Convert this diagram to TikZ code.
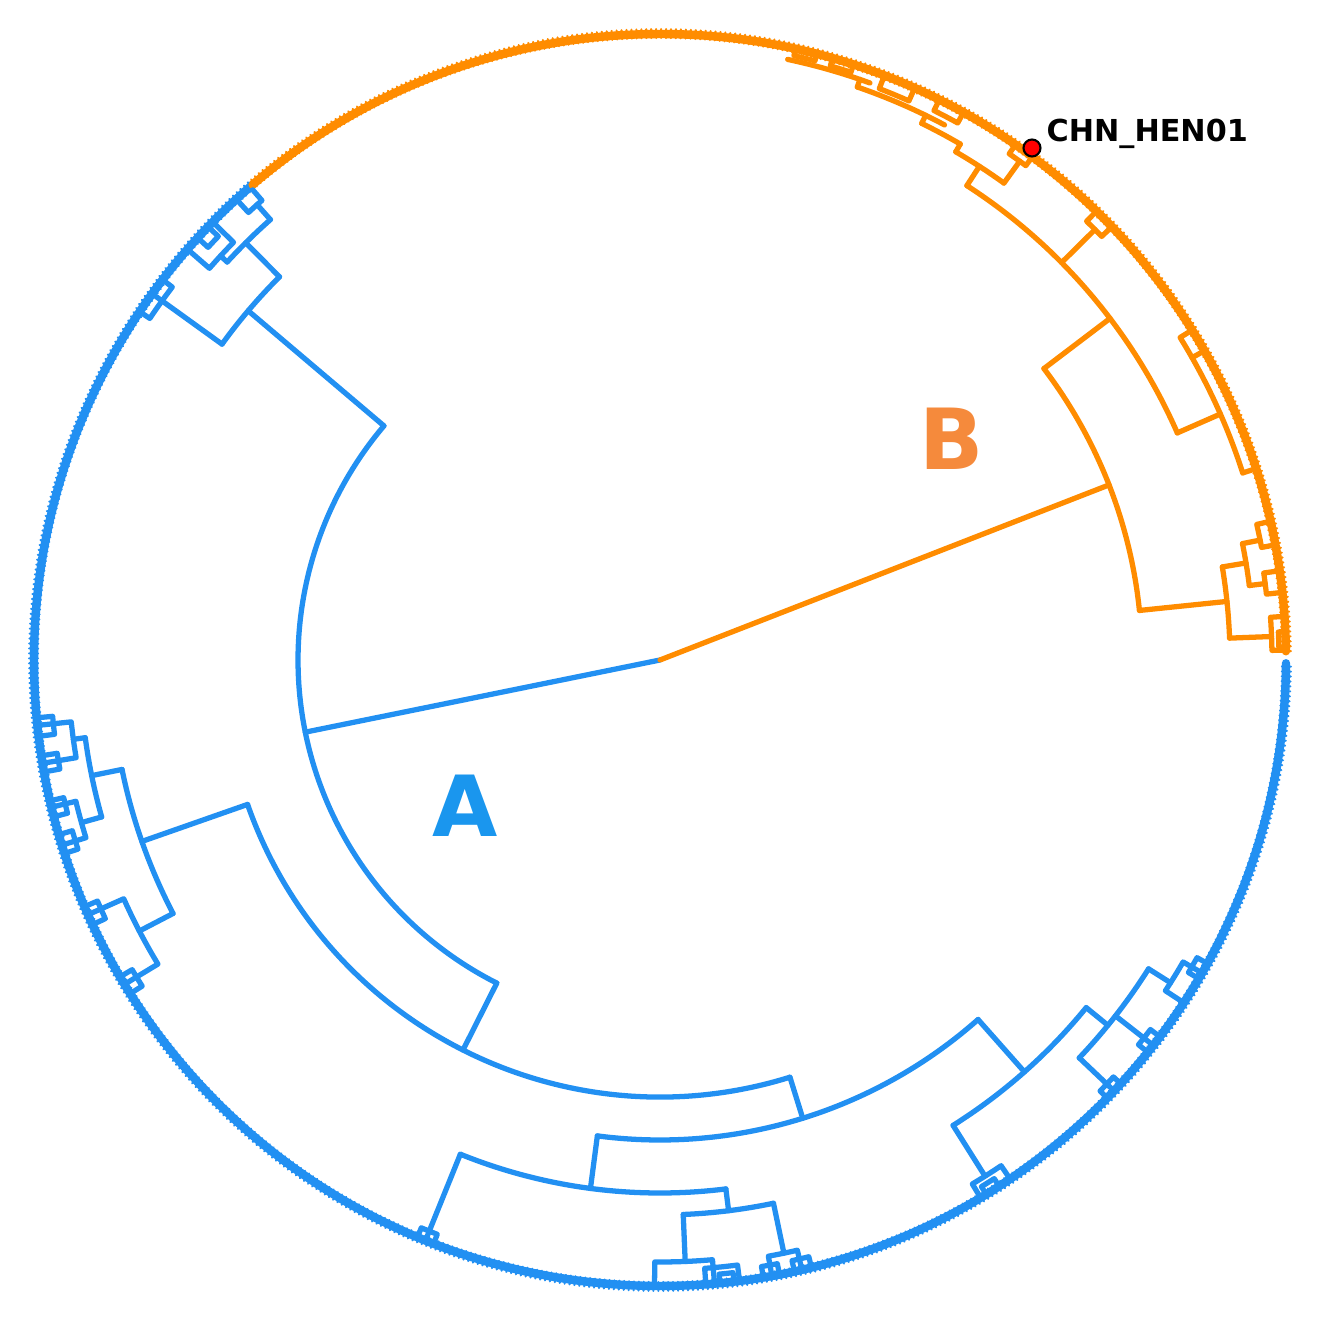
\documentclass[tikz,border=0pt]{standalone}
\usepackage{fontspec}
\setmainfont{DejaVu Sans}
\definecolor{treeblue}{HTML}{2290F2}
\definecolor{treeorange}{HTML}{FF8C00}
\definecolor{labelblue}{HTML}{1A96EE}
\definecolor{labelorange}{HTML}{F58A3C}
% arc of a clade: radius, from angle, to angle
\newcommand{\clade}[3]{\draw (#2:#1) arc[start angle=#2, end angle=#3, radius=#1];}
% radial branch: angle, from radius, to radius
\newcommand{\branch}[3]{\draw (#1:#2) -- (#1:#3);}
% small clade at the rim: from angle, to angle, radius
\newcommand{\tuft}[3]{\draw (#1:6.22) -- (#1:#3) arc[start angle=#1, end angle=#2, radius=#3] -- (#2:6.22);}
\begin{document}
\begin{tikzpicture}[line join=round, line cap=round, line width=1.5pt]
	\useasboundingbox (-6.6,-6.6) rectangle (6.6,6.6);
	% leaves on the rim
	\begin{scope}[treeblue]
		\draw[line width=2.4pt] (130.6:6.26) arc[start angle=130.6, end angle=359.7, radius=6.26];
		\foreach \a in {130.8,131.25,...,359.6}
		\draw[line width=0.6pt] (\a:6.22)--(\a:6.31);
	\end{scope}
	\begin{scope}[treeorange]
		\draw[line width=2.4pt] (0.8:6.26) arc[start angle=0.8, end angle=130.6, radius=6.26];
		\foreach \a in {0.8,1.25,...,130.4}
		\draw[line width=0.6pt] (\a:6.22)--(\a:6.31);
	\end{scope}
	% clade A
	\begin{scope}[treeblue]
		\draw (0,0)--(191.5:3.62);
		\clade{3.62}{139.7}{243.2}
		\branch{139.7}{3.62}{5.40}
		\clade{5.40}{134.8}{144.2}
		\branch{144.2}{5.40}{6.22}
		\tuft{142.6}{146.2}{6.14}
		\branch{134.8}{5.40}{5.88}
		\clade{5.88}{131.5}{137.4}
		\branch{131.5}{5.88}{6.08}
		\tuft{130.9}{132.6}{6.08}
		\branch{137.4}{5.88}{5.97}
		\tuft{135.6}{139.0}{5.97}
		\tuft{136.2}{137.6}{6.12}
		\branch{243.2}{3.62}{4.37}
		\clade{4.37}{199.3}{287.3}
		\branch{199.3}{4.37}{5.49}
		\clade{5.49}{191.5}{207.5}
		\branch{191.5}{5.49}{5.80}
		\clade{5.80}{187.7}{195.7}
		\branch{187.7}{5.80}{5.92}
		\tuft{186.0}{189.5}{5.92}
		\tuft{185.3}{187.0}{6.10}
		\tuft{188.8}{190.3}{6.10}
		\branch{195.7}{5.80}{6.01}
		\tuft{193.6}{197.2}{6.01}
		\tuft{193.0}{194.5}{6.12}
		\tuft{196.2}{198.0}{6.12}
		\branch{207.5}{5.49}{5.87}
		\tuft{204.0}{211.2}{5.87}
		\tuft{203.2}{205.0}{6.12}
		\tuft{210.4}{212.2}{6.12}
		\branch{287.3}{4.37}{4.80}
		\clade{4.80}{262.5}{311.5}
		\branch{262.5}{4.80}{5.33}
		\clade{5.33}{248}{277.1}
		\branch{248}{5.33}{6.22}
		\tuft{247.2}{248.8}{6.16}
		\branch{277.1}{5.33}{5.55}
		\clade{5.55}{272.4}{281.8}
		\branch{272.4}{5.55}{6.02}
		\tuft{269.5}{275.0}{6.02}
		\tuft{274.2}{277.3}{6.10}
		\tuft{275.5}{276.8}{6.17}
		\branch{281.8}{5.55}{6.06}
		\tuft{280.3}{283.1}{6.06}
		\tuft{279.5}{281.0}{6.15}
		\tuft{282.4}{284.0}{6.15}
		\branch{311.5}{4.80}{5.50}
		\clade{5.50}{302.2}{320.8}
		\branch{302.2}{5.50}{6.08}
		\tuft{300.8}{304.0}{6.10}
		\tuft{301.4}{302.8}{6.17}
		\branch{320.8}{5.50}{5.78}
		\clade{5.78}{316.5}{327.7}
		\branch{316.5}{5.78}{6.22}
		\tuft{315.6}{317.4}{6.16}
		\branch{322}{5.78}{6.22}
		\tuft{321.2}{323.0}{6.14}
		\branch{327.7}{5.78}{6.04}
		\tuft{326.8}{330.0}{6.04}
		\tuft{329.4}{331.0}{6.14}
	\end{scope}
	% clade B
	\begin{scope}[treeorange]
		\draw (0,0)--(21.3:4.82);
		\clade{4.82}{5.9}{37.2}
		\branch{37.2}{4.82}{5.65}
		\clade{5.65}{23.7}{57.1}
		\branch{23.7}{5.65}{6.12}
		\clade{6.12}{17.8}{29.6}
		\branch{17.8}{6.12}{6.22}
		\tuft{29.6}{31.8}{6.12}
		\branch{44.7}{5.65}{6.12}
		\tuft{43.8}{45.8}{6.12}
		\branch{57.1}{5.65}{5.88}
		\clade{5.88}{54.2}{59.8}
		\branch{54.2}{5.88}{6.15}
		\tuft{53.5}{55.4}{6.15}
		\clade{5.97}{59.8}{64}
		\branch{59.8}{5.88}{5.97}
		\branch{64}{5.97}{6.06}
		\clade{6.06}{62}{71}
		\tuft{61.0}{63.5}{6.14}
		\tuft{66.0}{69.0}{6.12}
		\branch{71}{6.06}{6.14}
		\clade{6.14}{70}{78}
		\tuft{72.0}{74.0}{6.18}
		\tuft{75.5}{77.5}{6.19}
		\branch{5.9}{4.82}{5.70}
		\clade{5.70}{2.2}{9.4}
		\branch{9.4}{5.70}{5.94}
		\clade{5.94}{7.2}{11.3}
		\branch{11.3}{5.94}{6.12}
		\tuft{10.6}{12.8}{6.12}
		\branch{7.2}{5.94}{6.10}
		\tuft{6.2}{8.2}{6.10}
		\branch{2.2}{5.70}{6.12}
		\tuft{0.9}{4.0}{6.12}
		\tuft{1.2}{2.6}{6.19}
	\end{scope}
	% labels
	\node[font=\bfseries\fontsize{24}{28}\selectfont, text=labelblue, inner sep=0] (labA) at (-1.95,-1.46) {A};
	\node[font=\bfseries\fontsize{24}{28}\selectfont, text=labelorange, inner sep=0] (labB) at (2.92,2.21) {B};
	\node[circle, fill=red, draw=black, line width=0.6pt, minimum size=0.17cm, inner sep=0] (hen) at (3.72,5.12) {};
	\node[anchor=base west, font=\bfseries\fontsize{8.6}{10}\selectfont, inner sep=0] (henname) at (3.84,5.18) {CHN\_HEN01};
\end{tikzpicture}
\end{document}
